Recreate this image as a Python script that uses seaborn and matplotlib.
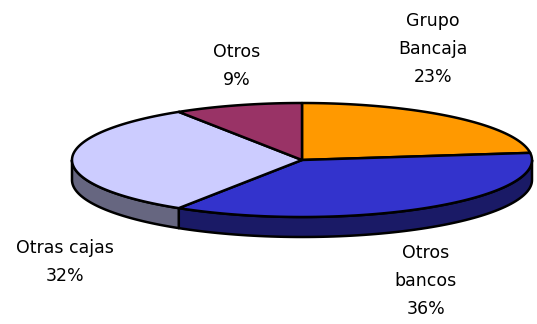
import numpy as np
import matplotlib
matplotlib.use("Agg")
import matplotlib.pyplot as plt
import seaborn as sns
from matplotlib.patches import Polygon

categories = ["Grupo\nBancaja", "Otros\nbancos", "Otras cajas", "Otros"]
values = [23, 36, 32, 9]
labels_pct = ["23%", "36%", "32%", "9%"]
top_colors = ["#FF9900", "#3333CC", "#CCCCFF", "#993366"]
side_colors = ["#7F4C00", "#1A1A66", "#666680", "#4C1933"]

sns.set_theme(style="white")
plt.rcParams['font.family'] = ['DejaVu Sans']

fig = plt.figure(figsize=(5.37, 3.24), dpi=100)
ax = fig.add_axes([0, 0, 1, 1])
ax.set_xlim(0, 537)
ax.set_ylim(324, 0)
ax.axis("off")

cx, cy, a, b, depth = 302, 160, 230, 57, 20
lw = 1.8

fr = np.array(values, dtype=float) / np.sum(values)
ends = 90 - 360 * np.cumsum(fr)
starts = np.concatenate([[90], ends[:-1]])

def pt(theta_deg, dy=0):
    t = np.radians(theta_deg)
    return cx + a * np.cos(t), cy - b * np.sin(t) + dy

# side walls (front half: theta in [-180, 0])
for s, e, col in zip(starts, ends, side_colors):
    hi, lo = min(s, 0), max(e, -180)
    if hi <= lo:
        continue
    th = np.linspace(hi, lo, 80)
    xs, ys = pt(th)
    top = np.column_stack([xs, ys])
    bot = np.column_stack([xs, ys + depth])[::-1]
    ax.add_patch(Polygon(np.vstack([top, bot]), closed=True, facecolor=col,
                         edgecolor="black", linewidth=lw, joinstyle="round"))

# top faces
for s, e, col in zip(starts, ends, top_colors):
    th = np.linspace(s, e, 120)
    xs, ys = pt(th)
    poly = np.vstack([[cx, cy], np.column_stack([xs, ys])])
    ax.add_patch(Polygon(poly, closed=True, facecolor=col, edgecolor="black",
                         linewidth=lw, joinstyle="round"))

label_pos = [(433, 49), (426, 281), (65, 262), (237, 66)]
for cat, pct, (x, y) in zip(categories, labels_pct, label_pos):
    ax.text(x, y, cat + "\n" + pct, ha="center", va="center", fontsize=12.5,
            linespacing=1.75, color="black")

fig.savefig("out.png", dpi=100)
